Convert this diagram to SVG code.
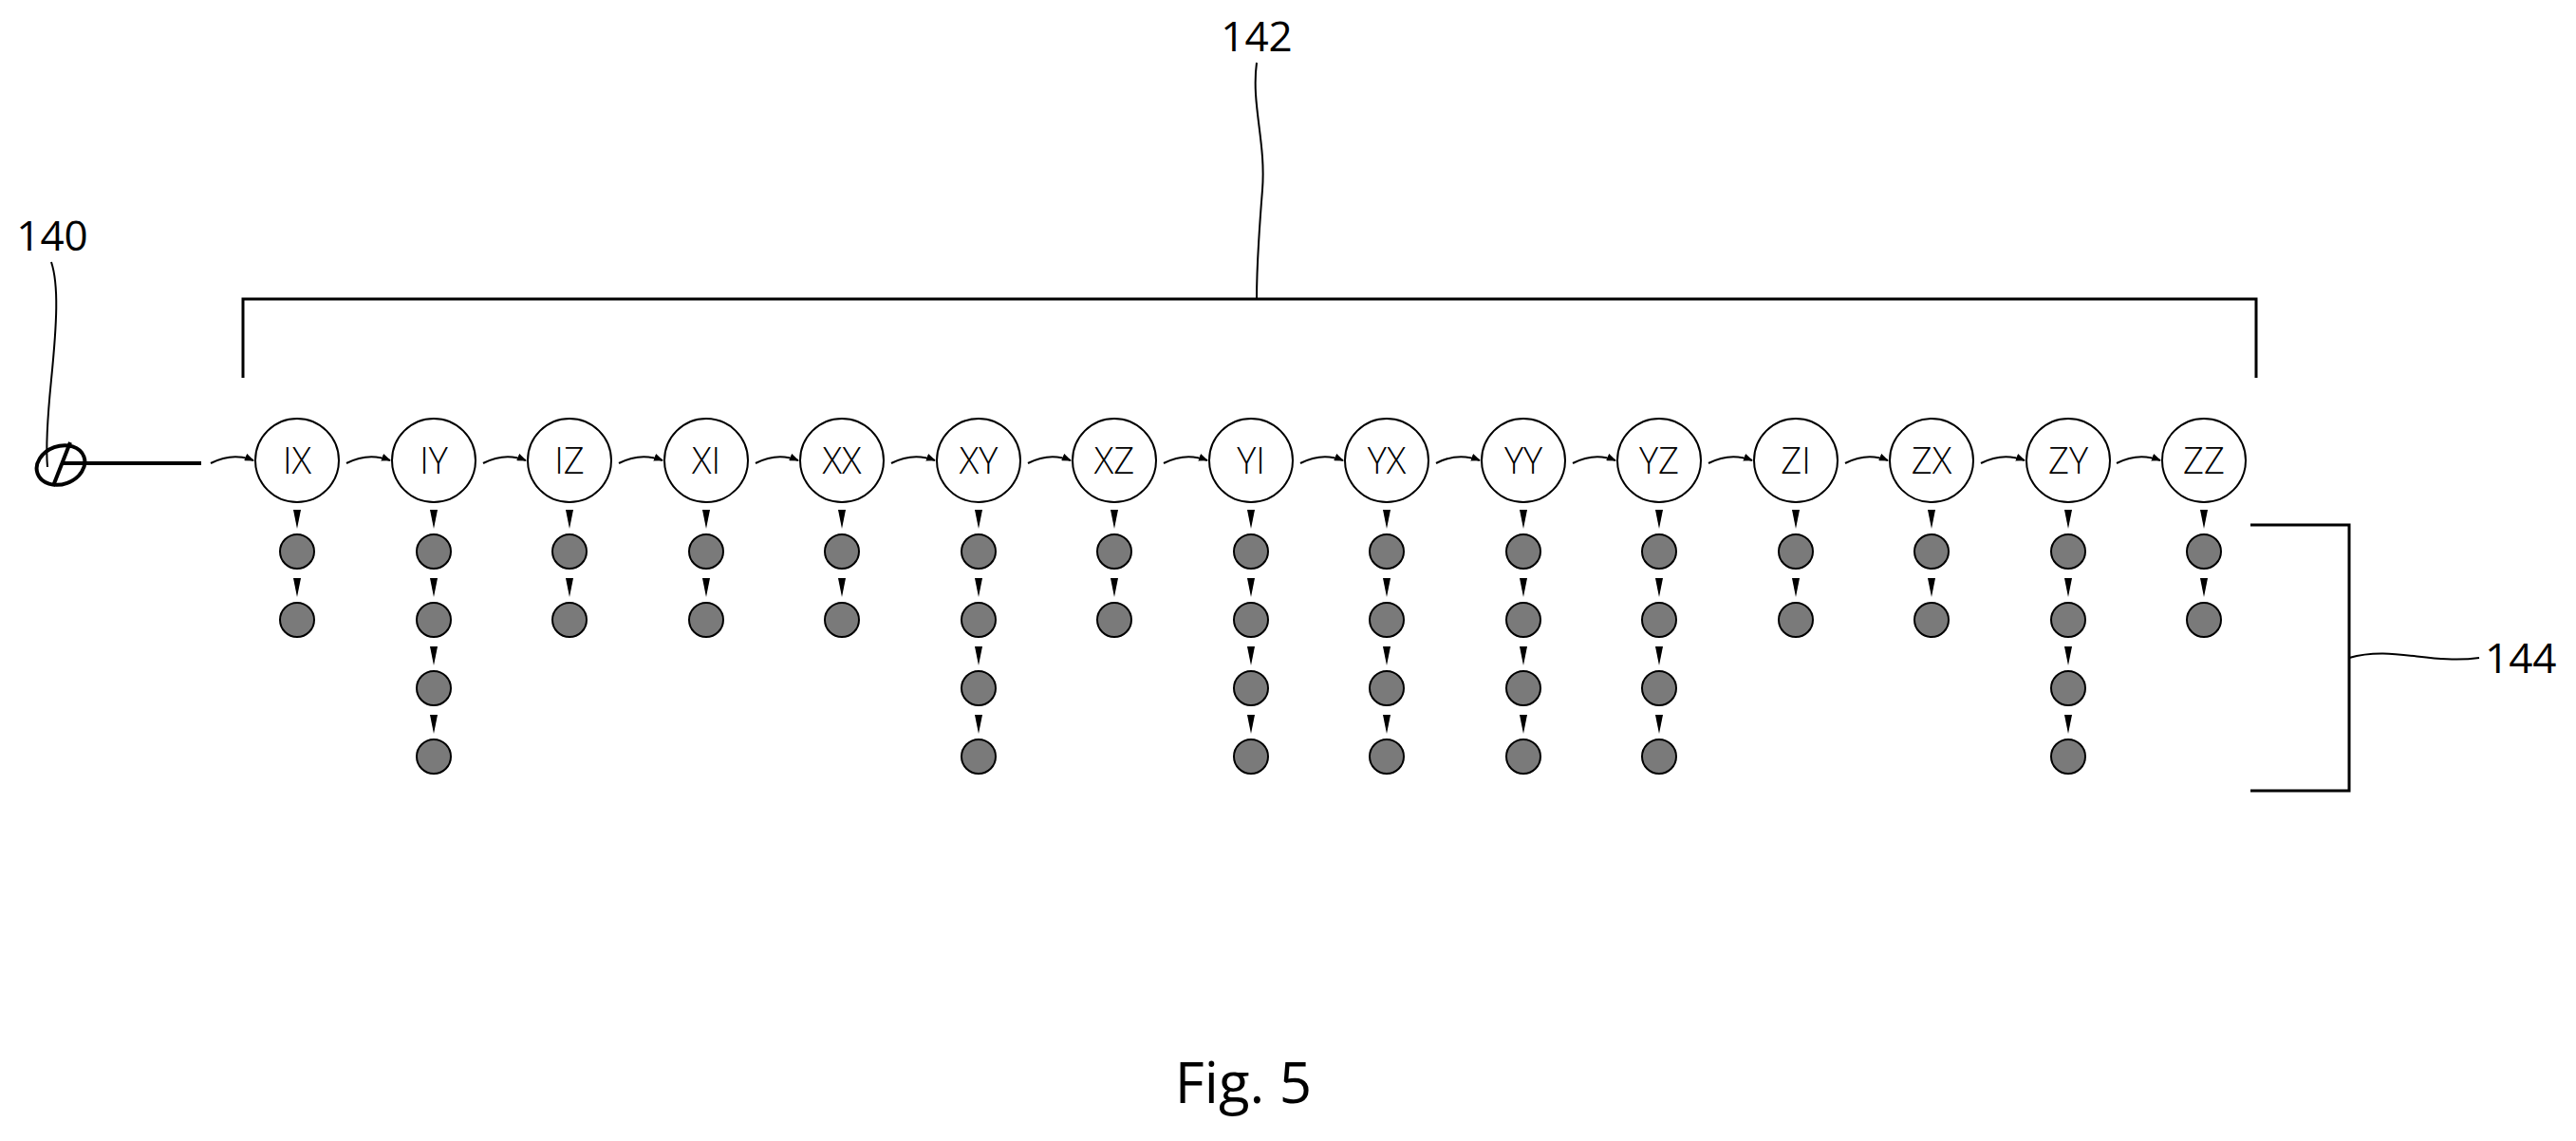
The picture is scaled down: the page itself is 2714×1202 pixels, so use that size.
<svg xmlns="http://www.w3.org/2000/svg" width="2714" height="1202" viewBox="0 0 2714 1202">
<defs>
<style>
.n circle{fill:#fff;stroke:#000;stroke-width:2}
.n text{font-family:"Open Sans","Liberation Sans",sans-serif;font-size:38px;font-weight:300;text-anchor:middle;fill:#000}
.d{fill:#7a7a7a;stroke:#000;stroke-width:2}
.c{fill:none;stroke:#000;stroke-width:2}
.l{font-family:"Open Sans","Liberation Sans",sans-serif;font-size:44px;fill:#000}
.b{fill:none;stroke:#000;stroke-width:3}
</style>
<marker id="ah" markerWidth="10" markerHeight="8" refX="9" refY="4" orient="auto" markerUnits="userSpaceOnUse"><path d="M0,0 L10,4 L0,8 Z" fill="#000"/></marker>
<path id="dh" d="M-4,0 L4,0 L0,20 Z" fill="#000"/>
</defs>
<rect width="2714" height="1202" fill="#fff"/>
<g id="connectors">
<path class="b" d="M256,398 V315 H2377 V398"/>
<path class="c" d="M1324,66 C1318,110 1334,150 1330,200 C1326,250 1324,290 1324,315"/>
<path class="b" d="M2371,553 H2475 V833 H2371"/>
<path class="c" d="M2475,693 C2520,680 2560,700 2612,693"/>
<path class="c" d="M54,276 C62,300 60,340 54,400 C50,440 48,470 50,492"/>
<ellipse cx="64" cy="490" rx="26" ry="20" transform="rotate(-20 64 490)" fill="none" stroke="#000" stroke-width="4"/>
<line x1="56" y1="512" x2="74" y2="466" stroke="#000" stroke-width="4"/>
<line x1="64" y1="488" x2="212" y2="488" stroke="#000" stroke-width="4"/>
</g>
<g id="labels">
<text class="l" x="1324" y="54" text-anchor="middle">142</text>
<text class="l" x="55" y="264" text-anchor="middle">140</text>
<text class="l" x="2618" y="709">144</text>
<text x="1310" y="1162" font-family="Open Sans, Liberation Sans, sans-serif" font-size="60" text-anchor="middle">Fig. 5</text>
</g>
<g id="chain">
<path class="c" marker-end="url(#ah)" d="M222,488 Q245,476 267,485"/>
<g id="IX" class="n"><circle cx="313" cy="485" r="44"/><text x="313" y="499">IX</text></g>
<path class="c" marker-end="url(#ah)" d="M365,488 Q388,476 411,485"/>
<g id="IY" class="n"><circle cx="457" cy="485" r="44"/><text x="457" y="499">IY</text></g>
<path class="c" marker-end="url(#ah)" d="M509,488 Q532,476 554,485"/>
<g id="IZ" class="n"><circle cx="600" cy="485" r="44"/><text x="600" y="499">IZ</text></g>
<path class="c" marker-end="url(#ah)" d="M652,488 Q675,476 698,485"/>
<g id="XI" class="n"><circle cx="744" cy="485" r="44"/><text x="744" y="499">XI</text></g>
<path class="c" marker-end="url(#ah)" d="M796,488 Q819,476 841,485"/>
<g id="XX" class="n"><circle cx="887" cy="485" r="44"/><text x="887" y="499">XX</text></g>
<path class="c" marker-end="url(#ah)" d="M939,488 Q962,476 985,485"/>
<g id="XY" class="n"><circle cx="1031" cy="485" r="44"/><text x="1031" y="499">XY</text></g>
<path class="c" marker-end="url(#ah)" d="M1083,488 Q1106,476 1128,485"/>
<g id="XZ" class="n"><circle cx="1174" cy="485" r="44"/><text x="1174" y="499">XZ</text></g>
<path class="c" marker-end="url(#ah)" d="M1226,488 Q1249,476 1272,485"/>
<g id="YI" class="n"><circle cx="1318" cy="485" r="44"/><text x="1318" y="499">YI</text></g>
<path class="c" marker-end="url(#ah)" d="M1370,488 Q1393,476 1415,485"/>
<g id="YX" class="n"><circle cx="1461" cy="485" r="44"/><text x="1461" y="499">YX</text></g>
<path class="c" marker-end="url(#ah)" d="M1513,488 Q1536,476 1559,485"/>
<g id="YY" class="n"><circle cx="1605" cy="485" r="44"/><text x="1605" y="499">YY</text></g>
<path class="c" marker-end="url(#ah)" d="M1657,488 Q1680,476 1702,485"/>
<g id="YZ" class="n"><circle cx="1748" cy="485" r="44"/><text x="1748" y="499">YZ</text></g>
<path class="c" marker-end="url(#ah)" d="M1800,488 Q1823,476 1846,485"/>
<g id="ZI" class="n"><circle cx="1892" cy="485" r="44"/><text x="1892" y="499">ZI</text></g>
<path class="c" marker-end="url(#ah)" d="M1944,488 Q1967,476 1989,485"/>
<g id="ZX" class="n"><circle cx="2035" cy="485" r="44"/><text x="2035" y="499">ZX</text></g>
<path class="c" marker-end="url(#ah)" d="M2087,488 Q2110,476 2133,485"/>
<g id="ZY" class="n"><circle cx="2179" cy="485" r="44"/><text x="2179" y="499">ZY</text></g>
<path class="c" marker-end="url(#ah)" d="M2230,488 Q2253,476 2276,485"/>
<g id="ZZ" class="n"><circle cx="2322" cy="485" r="44"/><text x="2322" y="499">ZZ</text></g>
</g>
<g id="dots2">
<g transform="translate(313,0)"><use href="#dh" y="537"/><circle class="d" cy="581" r="18"/><use href="#dh" y="609"/><circle class="d" cy="653" r="18"/></g>
<g transform="translate(600,0)"><use href="#dh" y="537"/><circle class="d" cy="581" r="18"/><use href="#dh" y="609"/><circle class="d" cy="653" r="18"/></g>
<g transform="translate(744,0)"><use href="#dh" y="537"/><circle class="d" cy="581" r="18"/><use href="#dh" y="609"/><circle class="d" cy="653" r="18"/></g>
<g transform="translate(887,0)"><use href="#dh" y="537"/><circle class="d" cy="581" r="18"/><use href="#dh" y="609"/><circle class="d" cy="653" r="18"/></g>
<g transform="translate(1174,0)"><use href="#dh" y="537"/><circle class="d" cy="581" r="18"/><use href="#dh" y="609"/><circle class="d" cy="653" r="18"/></g>
<g transform="translate(1892,0)"><use href="#dh" y="537"/><circle class="d" cy="581" r="18"/><use href="#dh" y="609"/><circle class="d" cy="653" r="18"/></g>
<g transform="translate(2035,0)"><use href="#dh" y="537"/><circle class="d" cy="581" r="18"/><use href="#dh" y="609"/><circle class="d" cy="653" r="18"/></g>
<g transform="translate(2322,0)"><use href="#dh" y="537"/><circle class="d" cy="581" r="18"/><use href="#dh" y="609"/><circle class="d" cy="653" r="18"/></g>
</g>
<g id="dots5">
<g transform="translate(457,0)"><use href="#dh" y="537"/><circle class="d" cy="581" r="18"/><use href="#dh" y="609"/><circle class="d" cy="653" r="18"/><use href="#dh" y="681"/><circle class="d" cy="725" r="18"/><use href="#dh" y="753"/><circle class="d" cy="797" r="18"/></g>
<g transform="translate(1031,0)"><use href="#dh" y="537"/><circle class="d" cy="581" r="18"/><use href="#dh" y="609"/><circle class="d" cy="653" r="18"/><use href="#dh" y="681"/><circle class="d" cy="725" r="18"/><use href="#dh" y="753"/><circle class="d" cy="797" r="18"/></g>
<g transform="translate(1318,0)"><use href="#dh" y="537"/><circle class="d" cy="581" r="18"/><use href="#dh" y="609"/><circle class="d" cy="653" r="18"/><use href="#dh" y="681"/><circle class="d" cy="725" r="18"/><use href="#dh" y="753"/><circle class="d" cy="797" r="18"/></g>
<g transform="translate(1461,0)"><use href="#dh" y="537"/><circle class="d" cy="581" r="18"/><use href="#dh" y="609"/><circle class="d" cy="653" r="18"/><use href="#dh" y="681"/><circle class="d" cy="725" r="18"/><use href="#dh" y="753"/><circle class="d" cy="797" r="18"/></g>
<g transform="translate(1605,0)"><use href="#dh" y="537"/><circle class="d" cy="581" r="18"/><use href="#dh" y="609"/><circle class="d" cy="653" r="18"/><use href="#dh" y="681"/><circle class="d" cy="725" r="18"/><use href="#dh" y="753"/><circle class="d" cy="797" r="18"/></g>
<g transform="translate(1748,0)"><use href="#dh" y="537"/><circle class="d" cy="581" r="18"/><use href="#dh" y="609"/><circle class="d" cy="653" r="18"/><use href="#dh" y="681"/><circle class="d" cy="725" r="18"/><use href="#dh" y="753"/><circle class="d" cy="797" r="18"/></g>
<g transform="translate(2179,0)"><use href="#dh" y="537"/><circle class="d" cy="581" r="18"/><use href="#dh" y="609"/><circle class="d" cy="653" r="18"/><use href="#dh" y="681"/><circle class="d" cy="725" r="18"/><use href="#dh" y="753"/><circle class="d" cy="797" r="18"/></g>
</g>
</svg>
